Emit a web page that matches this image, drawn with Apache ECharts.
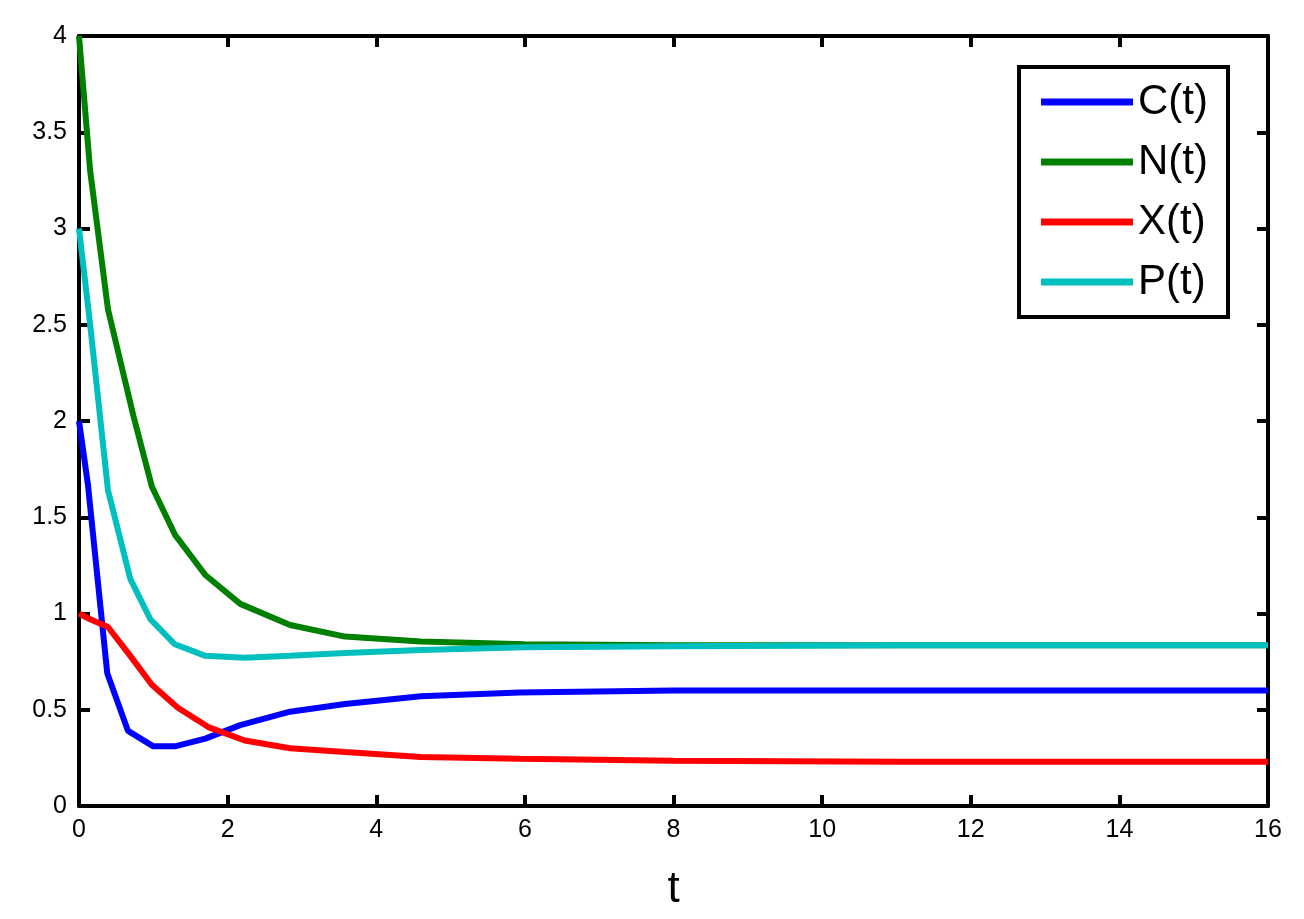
<!DOCTYPE html>
<html><head><meta charset="utf-8">
<script src="https://cdn.jsdelivr.net/npm/echarts@6/dist/echarts.min.js"></script>
<style>html,body{margin:0;background:#fff}#c{width:1304px;height:919px}</style>
</head><body><div id="c"></div>
<script>
const tC=[0,0.12,0.38,0.66,1.0,1.29,1.7,2.17,2.84,3.58,4.6,5.93,8,11,16];
const C=[2.0,1.67,0.69,0.39,0.31,0.31,0.35,0.42,0.49,0.53,0.57,0.59,0.6,0.6,0.6];
const tN=[0,0.15,0.39,0.73,0.98,1.29,1.7,2.17,2.84,3.58,4.6,6,8,11,16];
const N=[4.0,3.3,2.58,2.03,1.66,1.41,1.2,1.05,0.94,0.88,0.855,0.84,0.835,0.835,0.835];
const tX=[0,0.15,0.39,0.69,0.98,1.33,1.74,2.23,2.84,3.58,4.6,5.93,8,11,16];
const X=[1.0,0.97,0.93,0.78,0.63,0.51,0.41,0.34,0.30,0.28,0.255,0.245,0.235,0.23,0.23];
const tP=[0,0.15,0.39,0.69,0.96,1.29,1.7,2.23,2.84,3.58,4.6,6,8,11,16];
const P=[3.0,2.5,1.64,1.18,0.97,0.84,0.78,0.77,0.78,0.795,0.81,0.825,0.83,0.835,0.835];
const names=['C(t)','N(t)','X(t)','P(t)'];
const colors=['#0000ff','#008000','#ff0000','#00bfbf'];
const zip=(a,b)=>a.map((v,i)=>[v,b[i]]);
const ax=()=>({min:0,axisLine:{show:true,onZero:false,lineStyle:{color:'#000',width:4}},axisTick:{show:true,inside:true,length:11,lineStyle:{width:4,color:'#000'}},splitLine:{show:false}});
const lab={fontSize:25,color:'#000',fontFamily:'Arial'};
const chart=echarts.init(document.getElementById('c'));
chart.setOption({
animation:false,
grid:{left:79,right:36,top:36,bottom:113},
xAxis:[Object.assign(ax(),{type:'value',max:16,interval:2,position:'bottom',name:'t',nameLocation:'middle',nameGap:62,nameTextStyle:{fontSize:44,color:'#000',fontFamily:'Arial'},axisLabel:Object.assign({margin:12},lab)}),
Object.assign(ax(),{type:'value',max:16,interval:2,position:'top',axisLabel:{show:false}})],
yAxis:[Object.assign(ax(),{type:'value',max:4,interval:0.5,position:'left',axisLabel:Object.assign({margin:12},lab)}),
Object.assign(ax(),{type:'value',max:4,interval:0.5,position:'right',axisLabel:{show:false}})],
legend:{orient:'vertical',right:76,top:67,itemWidth:92,itemHeight:7,itemGap:18,padding:[14,20,14,22],borderColor:'#000',borderWidth:4,backgroundColor:'#fff',textStyle:{fontSize:42,color:'#000',fontFamily:'Arial'},icon:'rect',data:names},
series:[zip(tC,C),zip(tN,N),zip(tX,X),zip(tP,P)].map((d,i)=>({name:names[i],type:'line',data:d,symbol:'none',lineStyle:{width:6,color:colors[i]},itemStyle:{color:colors[i]}}))
});
</script></body></html>
